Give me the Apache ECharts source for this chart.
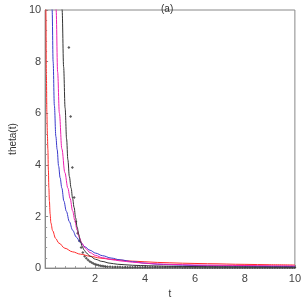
<!DOCTYPE html>
<html><head><meta charset="utf-8">
<script src="https://cdn.jsdelivr.net/npm/echarts@6/dist/echarts.min.js"></script>
<style>html,body{margin:0;padding:0;background:#fff}#c{width:304px;height:304px}</style>
</head><body><div id="c"></div>
<script>
var tRed = [0.02,0.03,0.05,0.07,0.09,0.11,0.13,0.15,0.17,0.2,0.23,0.3,0.42,0.55,0.79,1.1,1.41,1.8,2.2,2.64,3.5,4.49,5.5,6.5,8,9,10];
var vRed = [14,10,7.5,6,5.2,4.6,3.8,3.1,2.6,2.1,1.75,1.45,1.15,0.97,0.77,0.63,0.54,0.46,0.39,0.34,0.27,0.22,0.19,0.17,0.145,0.13,0.12];
var tBlue = [0.25,0.28,0.32,0.37,0.43,0.48,0.54,0.6,0.67,0.75,0.85,0.97,1.1,1.25,1.41,1.6,1.8,2.02,2.3,2.64,3.0,3.5,4.0,4.49,5,6,7,8,9,10];
var vBlue = [13,10,8,6.3,5.1,4.6,3.95,3.5,3.1,2.6,2.2,1.8,1.47,1.2,1.0,0.82,0.69,0.58,0.48,0.39,0.32,0.25,0.19,0.15,0.13,0.1,0.085,0.075,0.065,0.06];
var tMag = [0.40,0.44,0.50,0.57,0.67,0.79,0.91,1.0,1.10,1.19,1.28,1.37,1.47,1.6,1.8,2.02,2.3,2.64,3.0,3.5,4.0,4.49,5,6,7,8,9,10];
var vMag = [13,10,7.6,6.0,4.62,3.7,3.1,2.7,2.22,1.85,1.47,1.18,0.96,0.78,0.6,0.49,0.4,0.33,0.28,0.23,0.19,0.16,0.145,0.12,0.11,0.1,0.09,0.085];
var tBlack = [0.62,0.68,0.74,0.80,0.86,0.91,0.97,1.04,1.10,1.16,1.22,1.28,1.35,1.41,1.48,1.56,1.65,1.8,2.02,2.27,2.6,2.89,3.5,4.12,5,6,7,8,9,10];
var vBlack = [13,10,7.8,6.2,5.0,4.2,3.55,3.1,2.7,2.35,1.95,1.59,1.3,1.05,0.85,0.7,0.59,0.46,0.34,0.26,0.19,0.15,0.11,0.09,0.07,0.06,0.05,0.045,0.04,0.035];
var tPts = [0.95,1.02,1.09,1.16,1.23,1.30,1.37,1.44,1.51,1.58,1.65,1.72,1.79,1.86,1.93,2.00,2.07,2.14,2.21,2.28,2.35,2.42,
2.5,2.6,2.7,2.8,2.9,3.0,3.1,3.2,3.3,3.4,
3.5,3.6,3.7,3.8,3.9,4.0,4.1,4.2,4.3,4.4,4.5,4.6,4.7,4.8,4.9,5.0,5.1,5.2,5.3,5.4,
5.5,5.6,5.7,5.8,5.9,6.0,6.1,6.2,6.3,6.4,6.5,6.6,6.7,6.8,6.9,7.0,7.1,7.2,7.3,7.4,
7.5,7.6,7.7,7.8,7.9,8.0,8.1,8.2,8.3,8.4,8.5,8.6,8.7,8.8,8.9,9.0,9.1,9.2,9.3,9.4,9.5,9.6,9.7,9.8,9.9,10.0];
var vPts = [8.55,5.87,3.9,2.74,1.8,1.35,1.05,0.8,0.6,0.46,0.38,0.31,0.26,0.22,0.18,0.15,0.13,0.11,0.095,0.08,0.07,0.06,
0.055,0.05,0.046,0.042,0.04,0.038,0.036,0.034,0.033,0.032,
0.03,0.03,0.03,0.03,0.03,0.03,0.03,0.03,0.03,0.03,0.03,0.03,0.03,0.03,0.03,0.03,0.03,0.03,0.03,0.03,
0.025,0.025,0.025,0.025,0.025,0.025,0.025,0.025,0.025,0.025,0.025,0.025,0.025,0.025,0.025,0.025,0.025,0.025,0.025,0.025,
0.02,0.02,0.02,0.02,0.02,0.02,0.02,0.02,0.02,0.02,0.02,0.02,0.02,0.02,0.02,0.02,0.02,0.02,0.02,0.02,0.02,0.02,0.02,0.02,0.02,0.02];
var xTicks = [0,2,4,6,8,10];
var yTicks = [0,2,4,6,8,10];

function zip(t, v){ return t.map(function(x,i){ return [x, v[i]]; }); }
function lineS(t, v, color){
  return {type:'line', data: zip(t,v), showSymbol:false, smooth:0.35, smoothMonotone:'x',
    lineStyle:{color:color, width:1}, clip:true, animation:false};
}
var chart = echarts.init(document.getElementById('c'), null, {renderer:'canvas'});
var ff = 'Liberation Sans, Arial, sans-serif';
chart.setOption({
  animation:false,
  title:{text:'(a)', left:156, top:-1, textStyle:{fontSize:10, fontWeight:'normal', color:'#333', fontFamily:ff}},
  grid:{left:29, right:5, top:10, bottom:30, show:true, borderColor:'#888', borderWidth:1},
  xAxis:{type:'value', min:xTicks[0], max:xTicks[xTicks.length-1], interval:2,
    name:'t', nameLocation:'middle', nameGap:20, nameTextStyle:{fontSize:10, color:'#333', fontFamily:ff},
    axisLine:{lineStyle:{color:'#888'}}, axisTick:{inside:true, length:3, lineStyle:{color:'#888'}},
    minorTick:{show:true, splitNumber:5, length:2, lineStyle:{color:'#999'}},
    splitLine:{show:false},
    axisLabel:{showMinLabel:false, fontSize:11, color:'#444', margin:5, fontFamily:ff}},
  yAxis:{type:'value', min:yTicks[0], max:yTicks[yTicks.length-1], interval:2,
    name:'theta(t)', nameLocation:'middle', nameGap:22, nameTextStyle:{fontSize:10, color:'#333', fontFamily:ff},
    axisLine:{show:true, lineStyle:{color:'#888'}}, axisTick:{show:true, inside:true, length:3, lineStyle:{color:'#888'}},
    minorTick:{show:true, splitNumber:5, length:2, lineStyle:{color:'#999'}},
    splitLine:{show:false},
    axisLabel:{fontSize:11, color:'#444', margin:4, fontFamily:ff}},
  series:[
    lineS(tRed, vRed, '#ff2a2a'),
    lineS(tBlue, vBlue, '#3a3acc'),
    lineS(tMag, vMag, '#ee1fb0'),
    lineS(tBlack, vBlack, '#333333'),
    {type:'scatter', data: zip(tPts, vPts), symbol:'diamond', symbolSize:3,
      itemStyle:{color:'#333'}, clip:true, animation:false}
  ]
});
</script></body></html>
